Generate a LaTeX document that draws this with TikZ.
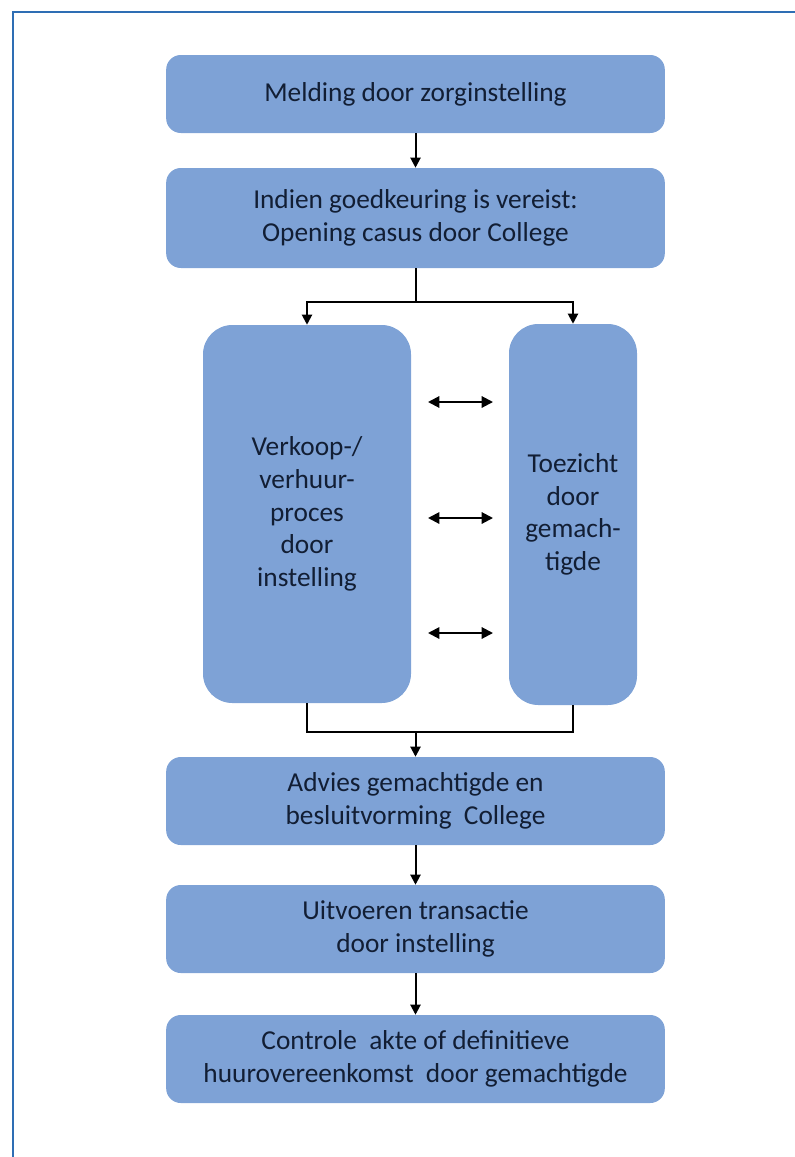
\documentclass[tikz,border=0pt]{standalone}
\usepackage{fontspec}
\setmainfont{Carlito}
\usetikzlibrary{arrows.meta}
\definecolor{boxblue}{RGB}{126,162,214}
\definecolor{txtnavy}{RGB}{18,30,52}
\definecolor{frameblue}{RGB}{46,110,180}
\begin{document}
\begin{tikzpicture}
  [x=0.75pt,y=-0.75pt,
   every node/.style={rectangle,rounded corners=11pt,fill=boxblue,text=txtnavy,
     align=center,font=\fontsize{20.5}{24.5}\selectfont,inner sep=0pt},
   wide/.style={minimum width=374pt},
   tall/.style={rounded corners=22pt},
   arr/.style={-{Triangle[length=7.5pt,width=7.5pt]},line width=1.5pt},
   dbl/.style={{Triangle[length=8.5pt,width=8.5pt]}-{Triangle[length=8.5pt,width=8.5pt]},line width=1.5pt}]
  \useasboundingbox (0,0) rectangle (795,1157);
  \draw[frameblue,line width=1.5pt] (795,12) -- (13,12) -- (13,1157);
  \node (melding)[wide,minimum height=58.5pt] at (415.5,94) {Melding door zorginstelling};
  \node (opening)[wide,minimum height=75pt] at (415.5,218) {Indien goedkeuring is vereist:\\Opening casus door College};
  \node (verkoop)[tall,minimum width=156pt,minimum height=283.5pt] at (307,514) {Verkoop-/\\verhuur-\\proces\\door\\instelling};
  \node (toezicht)[tall,minimum width=96pt,minimum height=285.75pt] at (573,514.5) {Toezicht\\door\\gemach-\\tigde};
  \node (advies)[wide,minimum height=66pt] at (415.5,801) {Advies gemachtigde en\\besluitvorming\ \ College};
  \node (uitvoeren)[wide,minimum height=66pt] at (415.5,929) {Uitvoeren transactie\\door instelling};
  \node (controle)[wide,minimum height=66pt] at (415.5,1059) {Controle\ \ akte of definitieve\\huurovereenkomst\ \ door gemachtigde};
  \coordinate (split) at (415.5,302);
  \coordinate (merge) at (415.5,732);
  \draw[arr] (melding) -- (opening);
  \draw[line width=1.5pt] (opening) -- (split);
  \draw[arr] (split) -| (verkoop.north);
  \draw[arr] (split) -| (toezicht.north);
  \draw[line width=1.5pt] (verkoop.south) |- (merge);
  \draw[line width=1.5pt] (toezicht.south) |- (merge);
  \draw[arr] (merge) -- (advies);
  \draw[arr] (advies) -- (uitvoeren);
  \draw[arr] (uitvoeren) -- (controle);
  \foreach \y [count=\i] in {402,518,633} {
    \coordinate (l\i) at (428,\y);
    \coordinate (r\i) at (493,\y);
    \draw[dbl] (l\i) -- (r\i);
  }
\end{tikzpicture}
\end{document}
